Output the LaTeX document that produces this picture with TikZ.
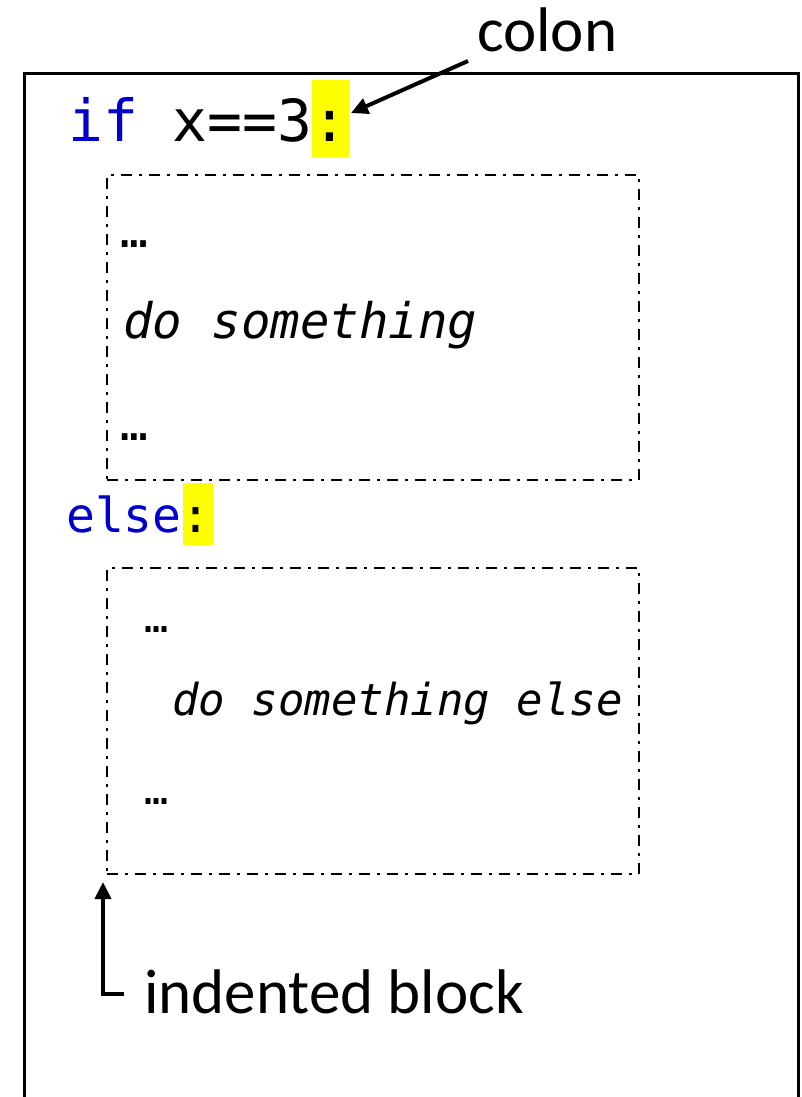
\documentclass[tikz,border=0pt]{standalone}
\usepackage{fontspec}
\setmainfont{Carlito}
\newfontfamily\codefont{DejaVu Sans Mono}
\usetikzlibrary{arrows.meta}
\definecolor{kw}{HTML}{0000CC}
\definecolor{hl}{HTML}{FFFF00}
\tikzset{
  txt/.style={inner sep=0pt, anchor=base west},
  code/.style={txt, font=\codefont},
  hlbox/.style={fill=hl, inner sep=0pt},
  blockbox/.style={draw, line width=2pt, dash pattern=on 11pt off 7pt on 3pt off 7pt},
  callout/.style={line width=4pt, -{Triangle[length=17pt,width=16pt]}},
  lbl/.style={txt, font=\fontsize{63}{68}\selectfont}
}
\begin{document}
\begin{tikzpicture}[x=1pt,y=-1pt]
\useasboundingbox (0,0) rectangle (802,1097);
\clip (0,0) rectangle (802,1097);
\fill[white] (0,0) rectangle (802,1097);
% outer frame (open at bottom)
\node[draw, line width=2.6pt, minimum width=774pt, minimum height=1060pt, inner sep=0pt, anchor=north west] (frame) at (23,72) {};
% highlights
\node[hlbox, minimum width=37pt, minimum height=77pt] (hl1) at (330.5,118.5) {};
\node[hlbox, minimum width=30pt, minimum height=62pt] (hl2) at (198,514) {};
% code lines
\node[code, font=\codefont\fontsize{58}{60}\selectfont] (ifl) at (68,142) {\textcolor{kw}{if} x==3:};
\node[code, font=\codefont\fontsize{48}{50}\selectfont] (elsel) at (66,532) {\textcolor{kw}{else}:};
% blocks
\node[blockbox, minimum width=532pt, minimum height=305pt, inner sep=0pt, anchor=north west] (blk1) at (106,174) {};
\node[blockbox, minimum width=532pt, minimum height=306pt, inner sep=0pt, anchor=north west] (blk2) at (106,567) {};
\node[code, font=\codefont\fontsize{46}{48}\selectfont] (e1) at (120,247) {…};
\node[code, font=\codefont\itshape\fontsize{49}{51}\selectfont] (ds1) at (123,338) {do something};
\node[code, font=\codefont\fontsize{46}{48}\selectfont] (e2) at (120,440) {…};
\node[code, font=\codefont\fontsize{40}{42}\selectfont] (e3) at (144,632) {…};
\node[code, font=\codefont\itshape\fontsize{44}{46}\selectfont] (ds2) at (172,715) {do something else};
\node[code, font=\codefont\fontsize{40}{42}\selectfont] (e4) at (144,804) {…};
% labels
\node[lbl] (colonlbl) at (477,52) {colon};
\node[lbl] (indlbl) at (144,1013) {indented block};
% callouts
\coordinate (c1s) at (468,61);
\coordinate (c1t) at (351,113);
\draw[callout] (c1s) -- (c1t);
\coordinate (c2f) at (124,994);
\coordinate (c2t) at (103,882);
\draw[callout] (c2f) -- (103,994) -- (c2t);
\end{tikzpicture}
\end{document}
